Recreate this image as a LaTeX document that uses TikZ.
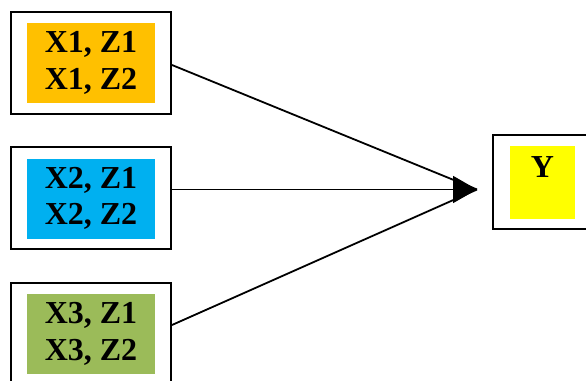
\documentclass[tikz,border=0pt]{standalone}
\usepackage{fontspec}
\setmainfont{Liberation Serif}
\usetikzlibrary{arrows.meta,calc}
\definecolor{cOrange}{HTML}{FFC000}
\definecolor{cBlue}{HTML}{00B0F0}
\definecolor{cGreen}{HTML}{9BBB59}
\definecolor{cYellow}{HTML}{FFFF00}
\begin{document}
\begin{tikzpicture}[x=1pt,y=-1pt,
  outerbox/.style={draw=black,line width=2pt,fill=white,inner sep=0pt,minimum width=160pt,minimum height=102pt},
  innerbox/.style={inner sep=0pt,minimum width=128pt,minimum height=80pt},
  boxtext/.style={font=\fontsize{32}{36.5}\selectfont\bfseries,align=center,inner sep=0pt},
  conn/.style={line width=1.8pt,draw=black}]
\useasboundingbox (0,0) rectangle (586,380);
\begin{scope}
\clip (0,0) rectangle (586,380);
\node[outerbox] (b1) at (91,62.5) {};
\node[innerbox,fill=cOrange] (i1) at (91,63) {};
\node[boxtext] (t1) at (91,63) {X1, Z1\\X1, Z2};
\node[outerbox] (b2) at (91,198) {};
\node[innerbox,fill=cBlue] (i2) at (91,199) {};
\node[boxtext] (t2) at (91,198.5) {X2, Z1\\X2, Z2};
\node[outerbox] (b3) at (91,334) {};
\node[innerbox,fill=cGreen] (i3) at (91,334) {};
\node[boxtext] (t3) at (91,334) {X3, Z1\\X3, Z2};
\node[outerbox,minimum width=94pt,minimum height=94pt] (by) at (540,182) {};
\node[inner sep=0pt,minimum width=65pt,minimum height=73pt,fill=cYellow] (iy) at (542.5,182.5) {};
\node[font=\fontsize{32}{36}\selectfont\bfseries,inner sep=0pt,anchor=base] (ty) at (542.5,177) {Y};
\end{scope}
\coordinate (tip) at (477,189.5);
\draw[conn] ($(b1.east)+(0,2.5)$) -- (tip);
\draw[conn] ($(b3.east)+(0,-9)$) -- (tip);
\draw[conn,-{Triangle[length=24pt,width=27pt]}] (b2.east |- tip) -- (tip);
\end{tikzpicture}
\end{document}
